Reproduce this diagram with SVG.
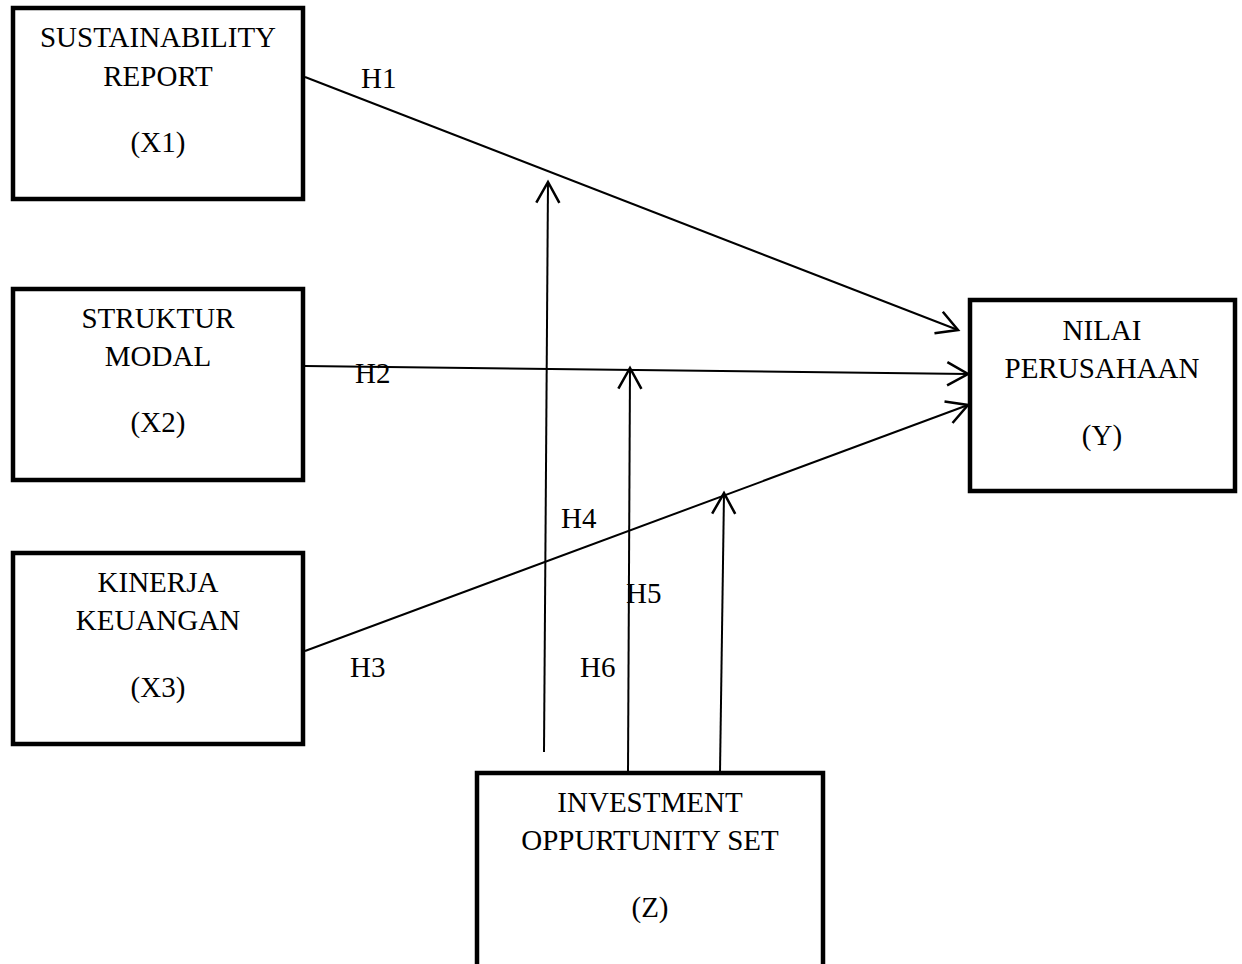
<svg xmlns="http://www.w3.org/2000/svg" width="1242" height="964" viewBox="0 0 1242 964">
<defs>
<style>
.box{fill:#fff;stroke:#000;stroke-width:4.5}
.t{font-family:"Liberation Serif","Times New Roman",serif;font-size:29px;fill:#000}
.m{text-anchor:middle}
.c{stroke:#000;stroke-width:2;fill:none}
</style>
<marker id="ah" markerUnits="userSpaceOnUse" markerWidth="30" markerHeight="30" viewBox="-22 -13 26 26" refX="0" refY="0" orient="auto">
<path d="M-18,-10 L0,0 L-18,10" fill="none" stroke="#000" stroke-width="2.2"/>
</marker>
</defs>
<rect width="1242" height="964" fill="#fff"/>
<g id="connectors">
<line class="c" x1="305" y1="77" x2="958" y2="330" marker-end="url(#ah)"/>
<line class="c" x1="305" y1="366" x2="968" y2="374" marker-end="url(#ah)"/>
<line class="c" x1="305" y1="651" x2="968" y2="405" marker-end="url(#ah)"/>
<line class="c" x1="544" y1="752" x2="548" y2="182" marker-end="url(#ah)"/>
<line class="c" x1="628" y1="772" x2="630" y2="368" marker-end="url(#ah)"/>
<line class="c" x1="720" y1="772" x2="724" y2="493" marker-end="url(#ah)"/>
<text class="t" x="361" y="88">H1</text>
<text class="t" x="355" y="383">H2</text>
<text class="t" x="350" y="677">H3</text>
<text class="t" x="561" y="528">H4</text>
<text class="t" x="626" y="603">H5</text>
<text class="t" x="580" y="677">H6</text>
</g>
<g id="x1">
<rect class="box" x="13" y="8" width="290" height="191"/>
<text class="t m" x="158" y="47">SUSTAINABILITY</text>
<text class="t m" x="158" y="86">REPORT</text>
<text class="t m" x="158" y="152">(X1)</text>
</g>
<g id="x2">
<rect class="box" x="13" y="289" width="290" height="191"/>
<text class="t m" x="158" y="328">STRUKTUR</text>
<text class="t m" x="158" y="366">MODAL</text>
<text class="t m" x="158" y="432">(X2)</text>
</g>
<g id="x3">
<rect class="box" x="13" y="553" width="290" height="191"/>
<text class="t m" x="158" y="592">KINERJA</text>
<text class="t m" x="158" y="630">KEUANGAN</text>
<text class="t m" x="158" y="697">(X3)</text>
</g>
<g id="y">
<rect class="box" x="970" y="300" width="265" height="191"/>
<text class="t m" x="1102" y="340">NILAI</text>
<text class="t m" x="1102" y="378">PERUSAHAAN</text>
<text class="t m" x="1102" y="445">(Y)</text>
</g>
<g id="z">
<rect class="box" x="477" y="773" width="346" height="220"/>
<text class="t m" x="650" y="812">INVESTMENT</text>
<text class="t m" x="650" y="850">OPPURTUNITY SET</text>
<text class="t m" x="650" y="917">(Z)</text>
</g>
</svg>
